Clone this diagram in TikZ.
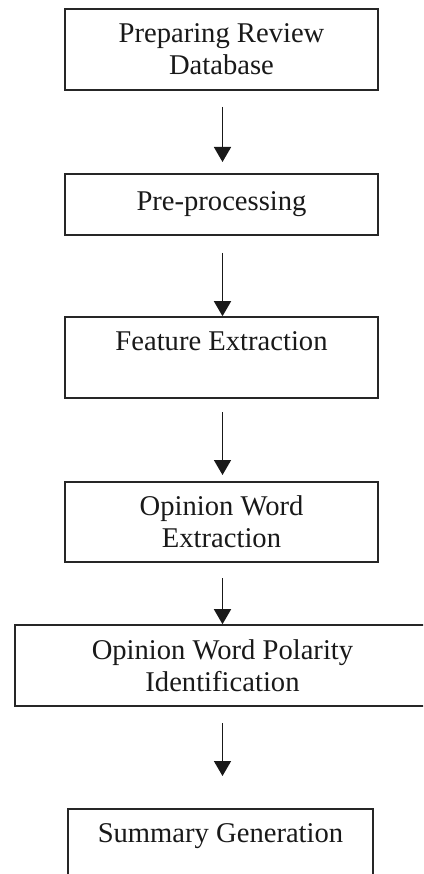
\documentclass[tikz,border=0pt]{standalone}
\usepackage{fontspec}
\setmainfont{Liberation Serif}
\usetikzlibrary{arrows.meta}
\begin{document}
\begin{tikzpicture}[x=1pt,y=1pt,
  stage/.style={draw=black!85, line width=1.6pt, rectangle, inner sep=0pt,
    align=center, font=\fontsize{28.6}{32}\selectfont, text=black!90},
  flow/.style={draw=black!90, line width=1.6pt,
    -{Triangle[width=17pt,length=15pt]}}]
  \useasboundingbox (0,0) rectangle (423,-874);
  \clip (0,0) rectangle (423,-874);
  \fill[white] (0,0) rectangle (423,-874);

  % processing stages, top to bottom
  \node[stage, minimum width=313pt, minimum height=81pt] (db) at (221.5,-49.5)
    {Preparing Review\\Database};
  \node[stage, minimum width=313pt, minimum height=61pt] (pre) at (221.5,-204.5)
    {Pre-processing};
  \node[stage, minimum width=313pt, minimum height=81pt] (feat) at (221.5,-357.5)
    {Feature Extraction\\\mbox{}};
  \node[stage, minimum width=313pt, minimum height=80pt] (opw) at (221.5,-522)
    {Opinion Word\\Extraction};
  \node[stage, minimum width=415pt, minimum height=81pt] (pol) at (222.5,-665.5)
    {Opinion Word Polarity\\Identification};
  \node[stage, minimum width=305pt, minimum height=80pt] (sum) at (220.5,-849)
    {Summary Generation\\\mbox{}};

  % connectors between stages
  \coordinate (a1s) at (222.5,-107);   \coordinate (a1e) at (222.5,-162);
  \coordinate (a2s) at (222.5,-253);   \coordinate (a3s) at (222.5,-412);
  \coordinate (a3e) at (222.5,-475);   \coordinate (a4s) at (222.5,-578);
  \coordinate (a5s) at (222.5,-723);   \coordinate (a5e) at (222.5,-776);
  \draw[flow] (a1s) -- (a1e);
  \draw[flow] (a2s) -- (a2s |- feat.north);
  \draw[flow] (a3s) -- (a3e);
  \draw[flow] (a4s) -- (a4s |- pol.north);
  \draw[flow] (a5s) -- (a5e);
\end{tikzpicture}
\end{document}
